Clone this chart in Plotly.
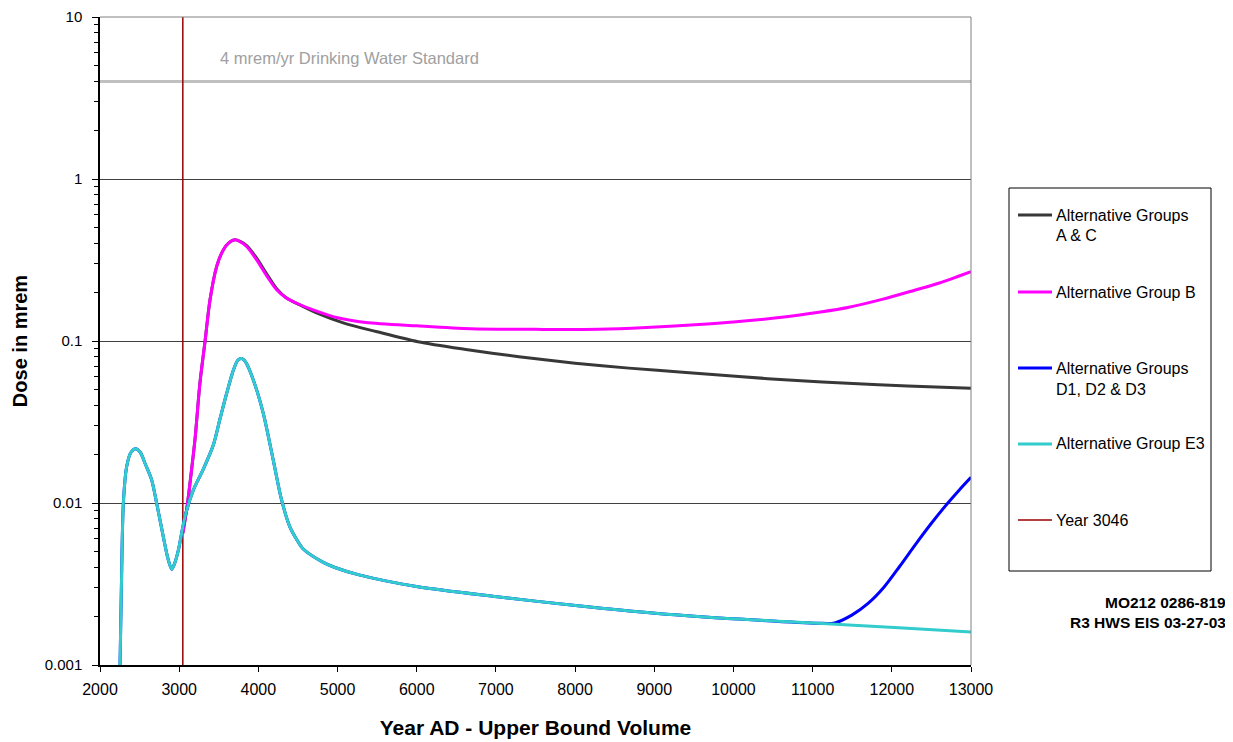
import plotly.graph_objects as go
import math

# ---------------- data ----------------
years_ac = [3046, 3100, 3136, 3199, 3262, 3326, 3389, 3473, 3557, 3630, 3705, 3770, 3852,
            3978, 4100, 4231, 4350, 4525, 4750, 5081, 5500, 6015, 6600, 7290, 8000, 8679,
            9400, 10068, 10800, 11443, 12200, 13000]
dose_ac = [0.0065, 0.0095, 0.0132, 0.0245, 0.055, 0.099, 0.179, 0.288, 0.365, 0.405, 0.421, 0.412, 0.388,
           0.325, 0.262, 0.21, 0.185, 0.167, 0.148, 0.129, 0.114, 0.099, 0.089, 0.080, 0.073, 0.068,
           0.064, 0.0603, 0.057, 0.0549, 0.0528, 0.0511]

years_b = [3046, 3100, 3136, 3199, 3262, 3326, 3389, 3473, 3557, 3630, 3705, 3770, 3852,
           3978, 4100, 4231, 4350, 4483, 4700, 5000, 5359, 6000, 6684, 7500, 8300, 8900, 9513,
           10000, 10611, 11100, 11443, 11900, 12277, 12600, 12850, 13000]
dose_b = [0.0065, 0.0095, 0.0132, 0.0245, 0.055, 0.099, 0.179, 0.288, 0.365, 0.405, 0.421, 0.41, 0.383,
          0.317, 0.255, 0.207, 0.185, 0.171, 0.155, 0.139, 0.130, 0.124, 0.119, 0.118, 0.118, 0.121, 0.126,
          0.131, 0.140, 0.151, 0.161, 0.182, 0.205, 0.228, 0.252, 0.268]

years_e3 = [2253, 2270, 2295, 2337, 2390, 2450, 2510, 2568, 2652, 2715, 2799, 2860, 2905, 2940,
            2989, 3073, 3178, 3305, 3431, 3515, 3600, 3684, 3740, 3789, 3840, 3936, 4062, 4188,
            4294, 4399, 4480, 4567, 4820, 4967, 5272, 6015, 7013, 8035, 9045, 10068, 11066,
            12089, 13000]
dose_e3 = [0.001, 0.003, 0.010, 0.0168, 0.0205, 0.0216, 0.0205, 0.0176, 0.0139, 0.010, 0.0062, 0.0045,
           0.0039, 0.0042, 0.0051, 0.0082, 0.012, 0.0162, 0.0228, 0.033, 0.0476, 0.066, 0.076, 0.078,
           0.074, 0.0575, 0.0358, 0.0184, 0.0104, 0.0071, 0.0060, 0.0052, 0.0043, 0.0040, 0.0036,
           0.00304, 0.00264, 0.00232, 0.00208, 0.00192, 0.00181, 0.0017, 0.0016]

years_d = years_e3[:41] + [11280, 11500, 11700, 11900, 12100, 12300, 12500, 12700, 12850, 13000]
dose_d = dose_e3[:41] + [0.00182, 0.00204, 0.0024, 0.00302, 0.00407, 0.00556, 0.0075, 0.0099, 0.0120, 0.0144]

standard_dose = 4
year_marker = 3046
x_range = [2000, 13000]
y_ticks = [0.001, 0.01, 0.1, 1, 10]
y_ticktext = ["0.001", "0.01", "0.1", "1", "10"]
x_ticks = list(range(2000, 13001, 1000))
x_ticktext = [str(v) for v in x_ticks]

names = ["Alternative Groups A & C", "Alternative Group B", "Alternative Groups D1, D2 & D3",
         "Alternative Group E3", "Year 3046"]
legend_lines = [["Alternative Groups", "A & C"], ["Alternative Group B"],
                ["Alternative Groups", "D1, D2 & D3"], ["Alternative Group E3"], ["Year 3046"]]
colors = ["#383838", "#FF00FF", "#0000FF", "#33CCCC", "#990000"]

FONT = "Liberation Sans, Arial, sans-serif"

minor_vals = [m * 10 ** e for e in range(-3, 1) for m in range(2, 10)]

fig = go.Figure()

fig.add_trace(go.Scatter(x=x_range, y=[standard_dose, standard_dose], mode="lines",
                         line=dict(color="#C0C0C0", width=3), showlegend=False, hoverinfo="skip"))
fig.add_trace(go.Scatter(x=[year_marker, year_marker], y=[y_ticks[0], y_ticks[-1]], mode="lines",
                         line=dict(color=colors[4], width=1.5), name=names[4], showlegend=False))

sm = 0.8
fig.add_trace(go.Scatter(x=years_ac, y=dose_ac, mode="lines", name=names[0],
                         line=dict(color=colors[0], width=3, shape="spline", smoothing=sm), showlegend=False))
fig.add_trace(go.Scatter(x=years_b, y=dose_b, mode="lines", name=names[1],
                         line=dict(color=colors[1], width=3, shape="spline", smoothing=sm), showlegend=False))
fig.add_trace(go.Scatter(x=years_d, y=dose_d, mode="lines", name=names[2],
                         line=dict(color=colors[2], width=3, shape="spline", smoothing=sm), showlegend=False))
fig.add_trace(go.Scatter(x=years_e3, y=dose_e3, mode="lines", name=names[3],
                         line=dict(color=colors[3], width=3, shape="spline", smoothing=sm), showlegend=False))

# the page body adds an 8px margin; work in page pixels and shift by it
OFF = 8
W, H = 1233 - OFF, 742 - OFF
L, R, T, B = 100 - OFF, 971 - OFF, 17 - OFF, 665 - OFF
def px(xp): return (xp - OFF - L) / (R - L)
def py(yp): return (B - (yp - OFF)) / (B - T)

shapes = []
shapes.append(dict(type="line", xref="paper", yref="paper", x0=0, x1=1, y0=1, y1=1,
                   line=dict(color="#808080", width=1)))
shapes.append(dict(type="line", xref="paper", yref="paper", x0=1, x1=1, y0=0, y1=1,
                   line=dict(color="#808080", width=1)))
shapes.append(dict(type="rect", xref="paper", yref="paper", x0=px(1009), x1=px(1211),
                   y0=py(571), y1=py(188), line=dict(color="black", width=1), fillcolor="white",
                   layer="below"))

annotations = []
entry_y = [215, 292, 368, 444, 520]
for i, (lines, yy) in enumerate(zip(legend_lines, entry_y)):
    shapes.append(dict(type="line", xref="paper", yref="paper", x0=px(1018), x1=px(1052),
                       y0=py(yy), y1=py(yy),
                       line=dict(color=colors[i], width=1.5 if i == 4 else 3)))
    for j, t in enumerate(lines):
        annotations.append(dict(xref="paper", yref="paper", x=px(1054), y=py(yy + 21 * j),
                                xanchor="left", yanchor="middle", text=t, showarrow=False,
                                font=dict(family=FONT, size=16, color="black")))

annotations.append(dict(x=5150, y=math.log10(5.6), xref="x", yref="y", text="4 mrem/yr Drinking Water Standard",
                        showarrow=False, font=dict(family=FONT, size=16.5, color="#A0A0A0")))
annotations.append(dict(xref="paper", yref="paper", x=px(1228), y=py(602), xanchor="right", yanchor="middle",
                        text="<b>MO212 0286-819</b>", showarrow=False,
                        font=dict(family=FONT, size=15.5, color="black")))
annotations.append(dict(xref="paper", yref="paper", x=px(1228), y=py(622), xanchor="right", yanchor="middle",
                        text="<b>R3 HWS EIS 03-27-03</b>", showarrow=False,
                        font=dict(family=FONT, size=15.5, color="black")))

fig.update_layout(
    width=W, height=H,
    margin=dict(l=L, r=W - R, t=T, b=H - B, autoexpand=False),
    paper_bgcolor="white", plot_bgcolor="white",
    font=dict(family=FONT, size=14, color="black"),
    shapes=shapes, annotations=annotations, showlegend=False,
    xaxis=dict(range=x_range, tickvals=x_ticks, ticktext=x_ticktext, ticks="outside", ticklen=5,
               tickcolor="black", automargin=False, ticklabelstandoff=4,
               showline=True, linecolor="black", linewidth=1.5, showgrid=False, zeroline=False,
               tickfont=dict(family=FONT, size=16),
               title=dict(text="<b>Year AD - Upper Bound Volume</b>", font=dict(family=FONT, size=21),
                          standoff=23)),
    yaxis=dict(type="log", range=[math.log10(y_ticks[0]), math.log10(y_ticks[-1])],
               tickvals=y_ticks, ticktext=y_ticktext, ticks="outside", ticklen=6, tickcolor="black",
               automargin=False, ticklabelstandoff=7,
               showline=True, linecolor="black", linewidth=1.5, showgrid=True, gridcolor="#404040",
               gridwidth=1, zeroline=False, tickfont=dict(family=FONT, size=15),
               minor=dict(tickmode="array", tickvals=minor_vals, ticks="outside", ticklen=4,
                          tickcolor="black", showgrid=False),
               title=dict(text="<b>Dose in mrem</b>", font=dict(family=FONT, size=20), standoff=12)),
)

fig.write_html("out.html")
